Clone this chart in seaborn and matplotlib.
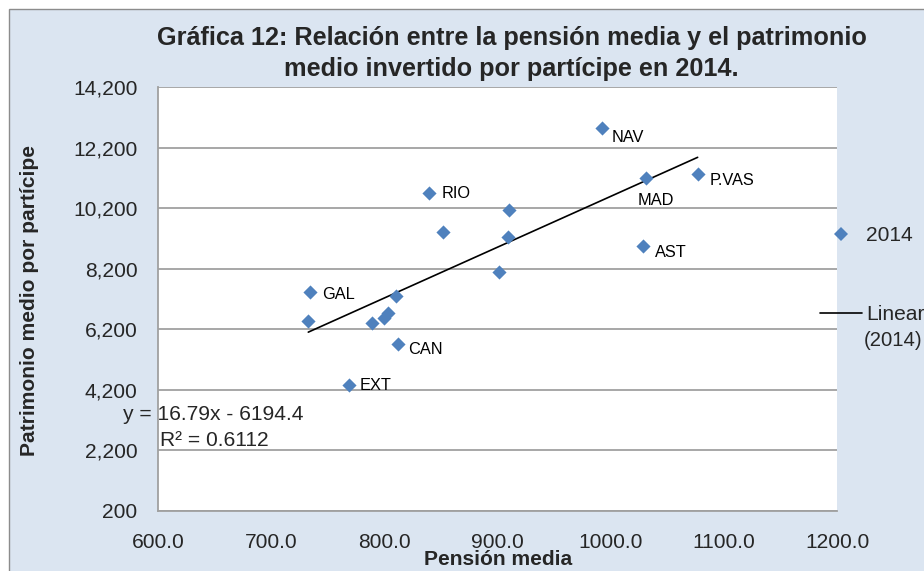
import numpy as np
import pandas as pd
import matplotlib
matplotlib.use("Agg")
import matplotlib.pyplot as plt
import seaborn as sns
from matplotlib import font_manager
from matplotlib.lines import Line2D
from matplotlib.patches import Rectangle

# ---------------- data ----------------
pension = [992.2, 1076.8, 1030.9, 1028.7, 839.6, 910.3, 851.9, 909.4, 901.2,
           734.1, 732.6, 809.9, 789.2, 799.8, 803.3, 811.6, 768.6]
patrimonio = [12841, 11331, 11189, 8962, 10693, 10142, 9425, 9259, 8083,
              7442, 6484, 7300, 6418, 6563, 6729, 5698, 4360]
etiquetas = ["NAV", "P.VAS", "MAD", "AST", "RIO", "", "", "", "",
             "GAL", "", "", "", "", "", "CAN", "EXT"]
pendiente = 16.79
ordenada = -6194.4
r2 = 0.6112
y_ticks = [200, 2200, 4200, 6200, 8200, 10200, 12200, 14200]
x_ticks = [600, 700, 800, 900, 1000, 1100, 1200]
titulo = "Gráfica 12: Relación entre la pensión media y el patrimonio\nmedio invertido por partícipe en 2014."
x_label = "Pensión media"
y_label = "Patrimonio medio por partícipe"
serie = "2014"

df = pd.DataFrame({"pension": pension, "patrimonio": patrimonio, "etiqueta": etiquetas})

# ---------------- style ----------------
sns.set_theme(style="white")
names = {f.name for f in font_manager.fontManager.ttflist}
NARROW = "Liberation Sans Narrow" in names
FAM = ["Liberation Sans Narrow", "DejaVu Sans"] if NARROW else ["Liberation Sans", "DejaVu Sans"]
k = 1.0 if NARROW else 0.84
plt.rcParams["font.family"] = FAM

BLUE = "#4F81BD"
BG = "#DBE5F1"
GRID = "#A0A0A0"

W, H = 924, 571
fig = plt.figure(figsize=(W / 100, H / 100), dpi=100, facecolor="white")
fig.add_artist(Rectangle((9 / W, -0.1), 1.2, 0.1 + (H - 9) / H, transform=fig.transFigure,
                         facecolor=BG, edgecolor="#8C8C8C", lw=1.0, zorder=-10))

left, right, top, bottom = 158.3, 837.0, 87.3, 510.8
ax = fig.add_axes([left / W, (H - bottom) / H, (right - left) / W, (bottom - top) / H])
ax.set_facecolor("white")

sns.scatterplot(data=df, x="pension", y="patrimonio", marker="D", s=52, color=BLUE,
                edgecolor=BLUE, linewidth=0, ax=ax, zorder=3, legend=False)

xs = np.array([min(pension), max(pension)])
trend = pd.DataFrame({"x": xs, "y": pendiente * xs + ordenada})
sns.lineplot(data=trend, x="x", y="y", color="black", lw=1.2, ax=ax, zorder=2, legend=False)

ax.set_xlim(600, 1200)
ax.set_ylim(200, 14200)
ax.set_xticks(x_ticks)
ax.set_yticks(y_ticks)
ax.set_xticklabels([f"{v:.1f}" for v in x_ticks], fontsize=18 * k)
ax.set_yticklabels([f"{v:,}" for v in y_ticks], fontsize=18 * k)
ax.tick_params(axis="both", length=0)
ax.tick_params(axis="y", pad=15)
ax.tick_params(axis="x", pad=16)
ax.grid(axis="y", color=GRID, lw=1.3)
ax.grid(axis="x", visible=False)
for s in ["top", "right"]:
    ax.spines[s].set_visible(False)
for s in ["left", "bottom"]:
    ax.spines[s].set_color(GRID)
    ax.spines[s].set_linewidth(1.3)

# data labels
offsets = {"NAV": (10, 9), "P.VAS": (12, 6), "MAD": (-8, 22), "AST": (12, 7),
           "RIO": (12, 0), "GAL": (12, 3), "CAN": (10, 5), "EXT": (11, 1)}
for xv, yv, lab in zip(pension, patrimonio, etiquetas):
    if lab:
        dx, dy = offsets[lab]
        ax.annotate(lab, (xv, yv), xytext=(dx, -dy), textcoords="offset pixels",
                    ha="left", va="center", fontsize=14 * k, color="black", zorder=4)

# equation
fig.text(213 / W, 1 - 414 / H, f"y = {pendiente}x - {abs(ordenada)}", ha="center", va="center",
         fontsize=18 * k)
fig.text(214 / W, 1 - 441 / H, f"R² = {r2}", ha="center", va="center", fontsize=18 * k)

# title
fig.text(511.5 / W, 1 - 53.5 / H, titulo, ha="center", va="center", fontsize=21.6 * k,
         fontweight="bold", linespacing=1.42)

# axis labels
ax.set_xlabel(x_label, fontsize=18 * k, fontweight="bold")
ax.xaxis.set_label_coords((498 - left) / (right - left), (bottom - 559.5) / (bottom - top))
ax.xaxis.label.set_va("center")
ax.set_ylabel(y_label, fontsize=18 * k, fontweight="bold")
ax.yaxis.set_label_coords((30 - left) / (right - left), (bottom - 301) / (bottom - top))
ax.yaxis.label.set_va("center")

# legend
fs_px = 18 * k * 100 / 72
h1 = Line2D([], [], marker="D", ls="", color=BLUE, markersize=7.2, markeredgewidth=0)
h2 = Line2D([], [], color="black", lw=1.2)
leg = ax.legend([h1, h2], [serie, "Linear"], loc="upper left",
                bbox_to_anchor=((820 - left) / (right - left), (bottom - 226) / (bottom - top)),
                frameon=False, fontsize=18 * k, handlelength=42 / fs_px, handletextpad=4 / fs_px,
                labelspacing=2.86, borderpad=0, borderaxespad=0)
fig.text(864 / W, 1 - 340 / H, f"({serie})", ha="left", va="center", fontsize=17.4 * k)

fig.savefig("out.png", dpi=100, facecolor="white")
